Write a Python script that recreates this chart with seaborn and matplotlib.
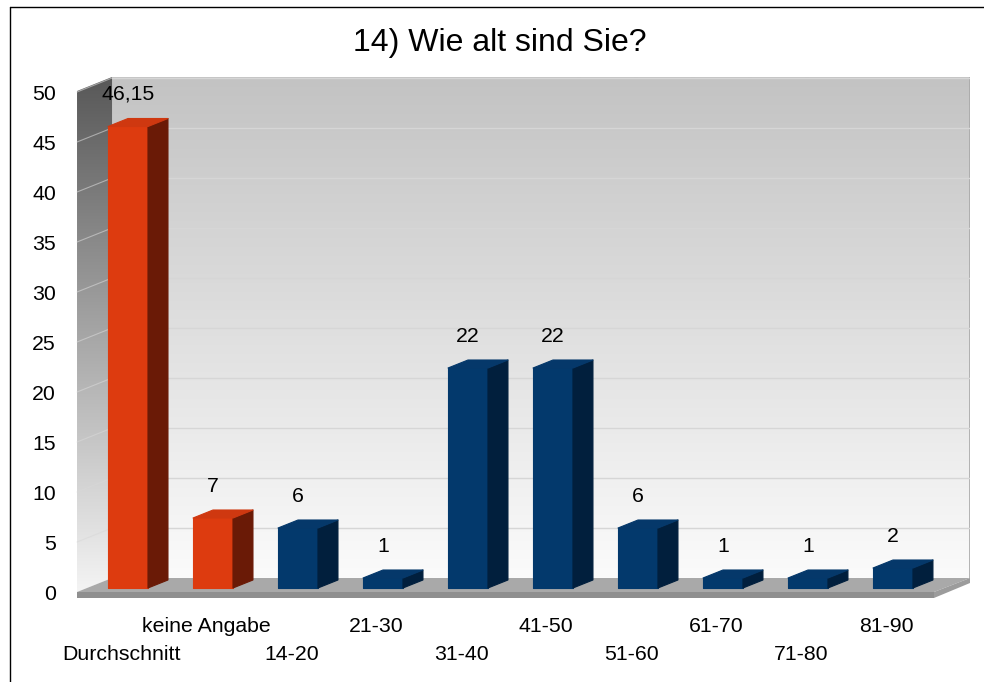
import numpy as np
import pandas as pd
import matplotlib
matplotlib.use("Agg")
import matplotlib.pyplot as plt
import seaborn as sns
from matplotlib.patches import Polygon
from matplotlib.colors import LinearSegmentedColormap
from matplotlib.lines import Line2D
from matplotlib.transforms import ScaledTranslation, blended_transform_factory

# ---- data -------------------------------------------------------------
categories = ["Durchschnitt", "keine Angabe", "14-20", "21-30", "31-40",
              "41-50", "51-60", "61-70", "71-80", "81-90"]
values = [46.15, 7, 6, 1, 22, 22, 6, 1, 1, 2]
groups = ["summary", "summary", "age", "age", "age",
          "age", "age", "age", "age", "age"]
y_ticks = [0, 5, 10, 15, 20, 25, 30, 35, 40, 45, 50]
title = "14) Wie alt sind Sie?"

# ---- styling ----------------------------------------------------------
front_colors = {"summary": "#dd3b0f", "age": "#03396c"}
side_colors = {"summary": "#6a1a06", "age": "#011f3d"}
top_colors = {"summary": "#cf3810", "age": "#05386a"}

sns.set_style("white")
plt.rcParams["font.family"] = ["Liberation Sans", "DejaVu Sans"]

W, H = 984, 682
fig = plt.figure(figsize=(W / 100, H / 100), dpi=100)
fig.patch.set_facecolor("white")


def fx(px):
    return px / W


def fy(py):
    return 1 - py / H


ax = fig.add_axes([fx(76), fy(598), fx(970) - fx(76), fy(77) - fy(598)])

df = pd.DataFrame({"Kategorie": categories, "Anzahl": values, "Gruppe": groups})
palette = {c: front_colors[g] for c, g in zip(categories, groups)}
sns.barplot(data=df, x="Kategorie", y="Anzahl", hue="Kategorie",
            palette=palette, width=0.47, legend=False, saturation=1,
            linewidth=0, ax=ax, zorder=5)
bars = list(ax.patches)

# box geometry (data units)
XL = (-0.612, 9.906)
YL = (-1.0, 51.1)
x_fl, x_bl = -0.60, -0.188       # left wall: front / back edge
x_br, x_fr = 9.906, 9.482        # right end: back / front edge
y_bf, y_ff, y_slab = 1.0, -0.4, -1.0
y_top = 51.1
wall_dy = y_bf - y_ff

# back wall gradient
back_cmap = LinearSegmentedColormap.from_list("back", ["#fbfbfb", "#c3c3c3"])
grad = np.linspace(0, 1, 256).reshape(-1, 1)
ax.imshow(grad, extent=[x_bl, x_br, y_bf, y_top], origin="lower",
          aspect="auto", cmap=back_cmap, zorder=0, interpolation="bilinear")
ax.plot([x_br, x_br], [y_bf, y_top], color="#a8a8a8", lw=1.2, zorder=1)

# left side wall gradient, clipped to its parallelogram
left_cmap = LinearSegmentedColormap.from_list("left", ["#f4f4f4", "#585858"])
left_poly = Polygon([(x_fl, y_ff), (x_bl, y_bf), (x_bl, y_top),
                     (x_fl, y_top - wall_dy)], closed=True,
                    transform=ax.transData, facecolor="none")
im = ax.imshow(grad, extent=[x_fl, x_bl, y_ff, y_top], origin="lower",
               aspect="auto", cmap=left_cmap, zorder=0, interpolation="bilinear")
im.set_clip_path(left_poly)

# grid lines on the walls
for v in y_ticks[1:]:
    ax.plot([x_bl, x_br], [y_bf + v, y_bf + v], color="#d6d6d6", lw=1.0, zorder=1)
    ax.plot([x_fl, x_bl], [y_ff + v, y_bf + v], color="#d8d8d8", lw=0.8,
            alpha=0.6, zorder=1)

# floor slab
ax.add_patch(Polygon([(x_fl, y_ff), (x_bl, y_bf), (x_br, y_bf), (x_fr, y_ff)],
                     closed=True, facecolor="#a9a9a9", edgecolor="none", zorder=2))
ax.add_patch(Polygon([(x_fl, y_ff), (x_fr, y_ff), (x_fr, y_slab), (x_fl, y_slab)],
                     closed=True, facecolor="#8f8f8f", edgecolor="none", zorder=2))
ax.add_patch(Polygon([(x_fr, y_ff), (x_br, y_bf), (x_br, y_bf - 0.5), (x_fr, y_slab)],
                     closed=True, facecolor="#9c9c9c", edgecolor="none", zorder=2))

# 3D faces of the bars and value labels
DX, DY = 0.235, 0.8
for patch, val, grp in zip(bars, values, groups):
    x0 = patch.get_x()
    w = patch.get_width()
    h = patch.get_height()
    patch.set_edgecolor(front_colors[grp])
    patch.set_linewidth(0.8)
    patch.set_joinstyle("round")
    side = Polygon([(x0 + w, 0), (x0 + w + DX, DY), (x0 + w + DX, h + DY), (x0 + w, h)],
                   closed=True, facecolor=side_colors[grp],
                   edgecolor=side_colors[grp], lw=0.8, joinstyle="round", zorder=5)
    top = Polygon([(x0, h), (x0 + w, h), (x0 + w + DX, h + DY), (x0 + DX, h + DY)],
                  closed=True, facecolor=top_colors[grp],
                  edgecolor=top_colors[grp], lw=0.8, joinstyle="round", zorder=5)
    ax.add_patch(side)
    ax.add_patch(top)
    label = f"{val:g}".replace(".", ",")
    ax.text(x0 + w / 2, h + 3.2, label, ha="center", va="center",
            fontsize=15.3, color="black", zorder=6)

# axes cosmetics
ax.set_xlim(*XL)
ax.set_ylim(*YL)
ax.set_frame_on(False)
ax.set_xlabel("")
ax.set_ylabel("")
ax.set_xticks([])
ax.set_yticks(y_ticks)
ax.set_yticklabels([str(t) for t in y_ticks])
ax.tick_params(axis="y", length=0, pad=14.4, labelsize=15.3, labelcolor="black")
shift = ScaledTranslation(0, -4.5 / 100, fig.dpi_scale_trans)
for lab in ax.get_yticklabels():
    lab.set_transform(lab.get_transform() + shift)

# staggered category labels
trans = blended_transform_factory(ax.transData, fig.transFigure)
for i, cat in enumerate(categories):
    row_y = fy(655) if i % 2 == 0 else fy(627)
    ax.text(i - 0.08, row_y, cat, transform=trans, ha="center", va="center",
            fontsize=15.3, color="black", clip_on=False)

fig.text(fx(500), fy(43), title, ha="center", va="center", fontsize=23, color="black")

# outer frame
fig.add_artist(Line2D([fx(10), fx(10)], [fy(7), 0], color="black", lw=1.0))
fig.add_artist(Line2D([fx(10), 1], [fy(7), fy(7)], color="black", lw=1.0))

fig.savefig("out.png", dpi=100, facecolor="white")
